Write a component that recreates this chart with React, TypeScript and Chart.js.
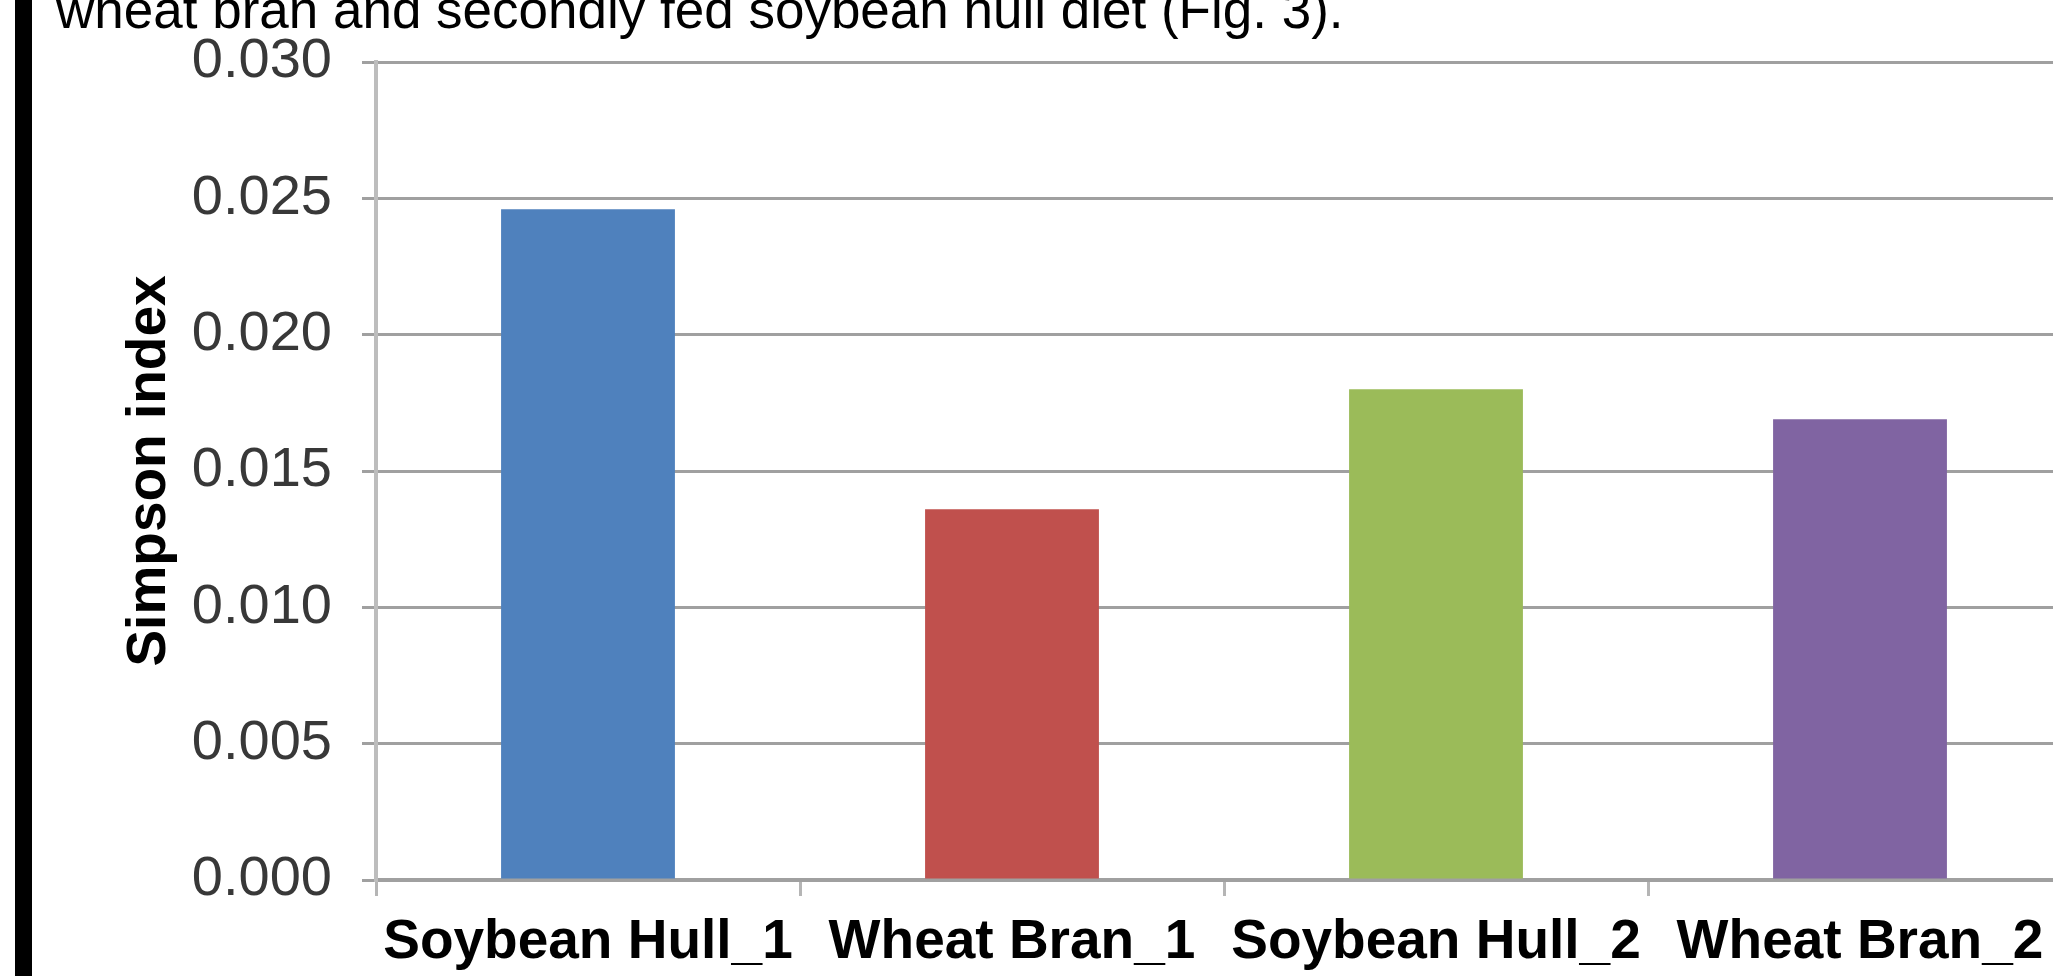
import React, { useEffect, useRef } from 'react';
import { Chart, registerables } from 'chart.js';

Chart.register(...registerables);

const FONT = "'Liberation Sans', Arial, Helvetica, sans-serif";

const categories = ['Soybean Hull_1', 'Wheat Bran_1', 'Soybean Hull_2', 'Wheat Bran_2'];
const simpsonValues = [0.0246, 0.0136, 0.018, 0.0169];
const barColors = ['#4f81bd', '#c0504d', '#9bbb59', '#8064a2'];
const yTickValues = [0, 0.005, 0.01, 0.015, 0.02, 0.025, 0.03];
const yAxisTitle = 'Simpson index';
const captionText = 'wheat bran and secondly fed soybean hull diet (Fig. 3).';

export default function App() {
  const ref = useRef<HTMLCanvasElement>(null);

  useEffect(() => {
    const canvas = ref.current as HTMLCanvasElement;
    const chart = new Chart(canvas, {
      type: 'bar',
      data: {
        labels: categories,
        datasets: [
          {
            data: simpsonValues,
            backgroundColor: barColors,
            borderWidth: 0,
            categoryPercentage: 1,
            barPercentage: 0.41,
          },
        ],
      },
      options: {
        responsive: false,
        maintainAspectRatio: false,
        animation: false,
        layout: { padding: { top: 62, left: 0, right: 0, bottom: 0 } },
        plugins: { legend: { display: false }, tooltip: { enabled: false } },
        scales: {
          x: {
            offset: true,
            grid: {
              offset: true,
              drawOnChartArea: false,
              drawTicks: true,
              tickLength: 16,
              color: '#b5b5b5',
              lineWidth: 3,
            },
            border: { display: true, color: '#a0a0a0', width: 4 },
            ticks: {
              autoSkip: false,
              maxRotation: 0,
              minRotation: 0,
              padding: 14,
              color: '#000000',
              font: { family: FONT, size: 55, weight: 'bold' },
            },
            afterFit: (s: any) => {
              s.height = 96;
              s.paddingLeft = 0;
              s.paddingRight = 0;
            },
          },
          y: {
            min: 0,
            max: 0.03,
            afterBuildTicks: (s: any) => {
              s.ticks = yTickValues.map((v) => ({ value: v }));
            },
            grid: { color: '#a0a0a0', lineWidth: 3, tickLength: 14, drawTicks: true },
            border: { display: true, color: '#bdbdbd', width: 4 },
            ticks: {
              padding: 30,
              color: '#383838',
              font: { family: FONT, size: 56 },
              callback: (v: any) => Number(v).toFixed(3),
            },
            title: {
              display: true,
              text: yAxisTitle,
              color: '#000000',
              font: { family: FONT, size: 55, weight: 'bold' },
              padding: { top: 117, bottom: 0 },
            },
            afterFit: (s: any) => {
              s.width = 376;
              s.paddingTop = 0;
              s.paddingBottom = 0;
            },
          },
        },
      },
    } as any);
    return () => chart.destroy();
  }, []);

  return (
    <div
      style={{
        position: 'fixed',
        left: 0,
        top: 0,
        width: '2053px',
        height: '976px',
        overflow: 'hidden',
        background: '#ffffff',
      }}
    >
      <canvas
        ref={ref}
        width={2072}
        height={976}
        style={{ position: 'absolute', left: 0, top: 0, width: '2072px', height: '976px' }}
      />
      <div
        style={{
          position: 'absolute',
          left: '15px',
          top: 0,
          width: '17px',
          height: '976px',
          background: '#000000',
        }}
      />
      <div
        style={{
          position: 'absolute',
          left: '56px',
          top: '-17px',
          fontFamily: FONT,
          fontSize: '53px',
          lineHeight: '53px',
          color: '#000000',
          whiteSpace: 'nowrap',
        }}
      >
        {captionText}
      </div>
    </div>
  );
}
